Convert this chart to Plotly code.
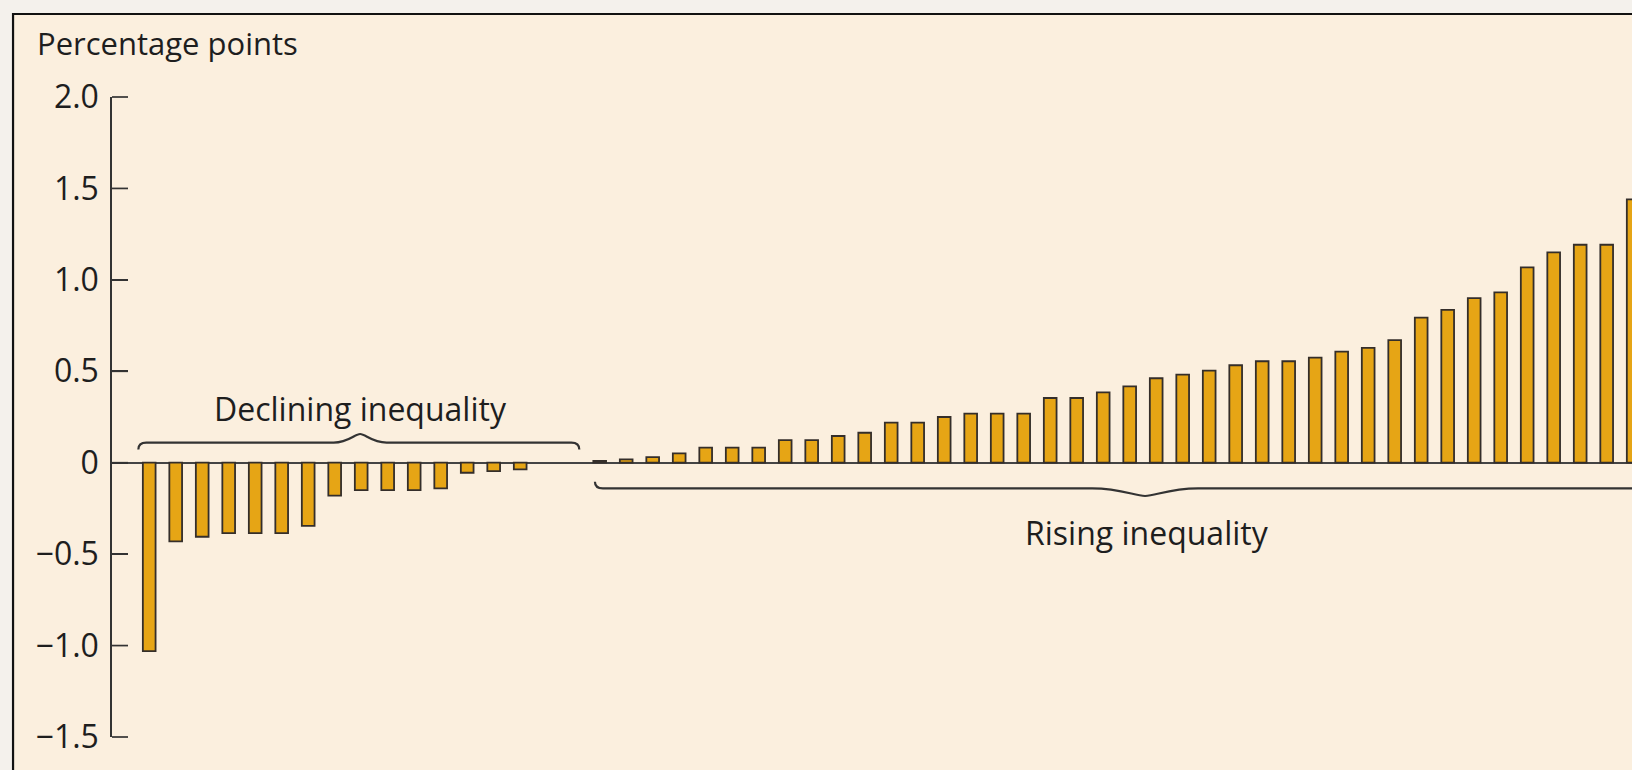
import plotly.graph_objects as go

# ---- data ----
declining_values = [-1.03, -0.43, -0.405, -0.385, -0.385, -0.385, -0.345, -0.18,
                    -0.15, -0.15, -0.15, -0.14, -0.055, -0.046, -0.036]
rising_values = [0.01, 0.018, 0.031, 0.051, 0.082, 0.082, 0.082, 0.124, 0.124, 0.146,
                 0.164, 0.219, 0.219, 0.25, 0.268, 0.268, 0.268, 0.354, 0.354, 0.385,
                 0.418, 0.462, 0.482, 0.504, 0.533, 0.555, 0.555, 0.575, 0.608, 0.628,
                 0.670, 0.794, 0.836, 0.900, 0.931, 1.068, 1.150, 1.192, 1.192, 1.440]
declining_pos = list(range(0, 15))
rising_pos = list(range(17, 57))
tick_vals = [2.0, 1.5, 1.0, 0.5, 0, -0.5, -1.0, -1.5]
tick_text = ["2.0", "1.5", "1.0", "0.5", "0", "\u22120.5", "\u22121.0", "\u22121.5"]
axis_title = "Percentage points"
label_declining = "Declining inequality"
label_rising = "Rising inequality"

# ---- style ----
BAR = "#E6A515"
EDGE = "#342e2a"
CREAM = "#FBEFDE"
OUTER = "#F4F1EC"
TXT = "#1e1e1e"
AXC = "#333333"
FONT = "Open Sans"
Y_MIN, Y_MAX = -1.5, 2.0
PLOT_W = 1520
TICK_LEN = 16

x_all = declining_pos + rising_pos
y_all = declining_values + rising_values

fig = go.Figure()
fig.add_trace(go.Bar(
    x=x_all, y=y_all, width=0.48,
    marker=dict(color=BAR, line=dict(color=EDGE, width=1.8)),
    hoverinfo="skip", showlegend=False,
))


def brace(x0, x1, xm, yl, ye, yt, h, w):
    # curly brace: ends at ye, straight at yl, tip at yt
    return (f"M {x0},{ye} Q {x0},{yl} {x0 + h},{yl} "
            f"L {xm - w},{yl} "
            f"C {xm - w * 0.45},{yl} {xm - w * 0.2},{yt} {xm},{yt} "
            f"C {xm + w * 0.2},{yt} {xm + w * 0.45},{yl} {xm + w},{yl} "
            f"L {x1 - h},{yl} Q {x1},{yl} {x1},{ye}")


shapes = [
    # frame of the panel
    dict(type="rect", xref="paper", yref="paper", x0=-0.0651, x1=1.3, y0=-0.4, y1=1.1297,
         line=dict(color="#111111", width=2.2), fillcolor=CREAM, layer="below"),
    dict(type="path", xref="x", yref="y",
         path=brace(-0.41, 16.23, 7.96, 0.110, 0.072, 0.157, 0.3, 1.0),
         line=dict(color=AXC, width=2.2)),
    dict(type="path", xref="x", yref="y",
         path=brace(16.82, 58.34, 37.58, -0.140, -0.104, -0.182, 0.3, 2.0),
         line=dict(color=AXC, width=2.2)),
]
# inward tick marks at each labelled value
for v in tick_vals:
    yp = (v - Y_MIN) / (Y_MAX - Y_MIN)
    shapes.append(dict(type="line", xref="paper", yref="paper",
                       x0=0, x1=TICK_LEN / PLOT_W, y0=yp, y1=yp,
                       line=dict(color=AXC, width=1.7)))

annotations = [
    dict(text=axis_title, xref="paper", yref="paper", x=-0.0507, y=1.0838,
         xanchor="left", yanchor="middle", showarrow=False,
         font=dict(family=FONT, size=31, color=TXT)),
    dict(text=label_declining, xref="x", yref="y", x=7.98, y=0.297,
         xanchor="center", yanchor="middle", showarrow=False,
         font=dict(family=FONT, size=32, color=TXT)),
    dict(text=label_rising, xref="x", yref="y", x=37.65, y=-0.379,
         xanchor="center", yanchor="middle", showarrow=False,
         font=dict(family=FONT, size=32, color=TXT)),
]

fig.update_layout(
    width=1632, height=770,
    margin=dict(l=112, r=0, t=97, b=33, pad=0),
    paper_bgcolor=OUTER, plot_bgcolor="rgba(0,0,0,0)",
    shapes=shapes, annotations=annotations,
    bargap=0,
    xaxis=dict(visible=False, range=[-1.404, 55.955], fixedrange=True),
    yaxis=dict(range=[Y_MIN, Y_MAX], tickvals=tick_vals, ticktext=tick_text,
               showline=True, linecolor=AXC, linewidth=1.7,
               ticks="inside", ticklen=TICK_LEN, tickwidth=1.7, tickcolor=AXC,
               showgrid=False, zeroline=True, zerolinecolor="#444444", zerolinewidth=1.6,
               tickfont=dict(family=FONT, size=32, color=TXT),
               ticklabelstandoff=5, fixedrange=True),
)

fig.write_html(
    "out.html",
    config={"displayModeBar": False, "staticPlot": True},
    post_script="document.body.style.margin='0';document.body.style.background='#F4F1EC';",
)
